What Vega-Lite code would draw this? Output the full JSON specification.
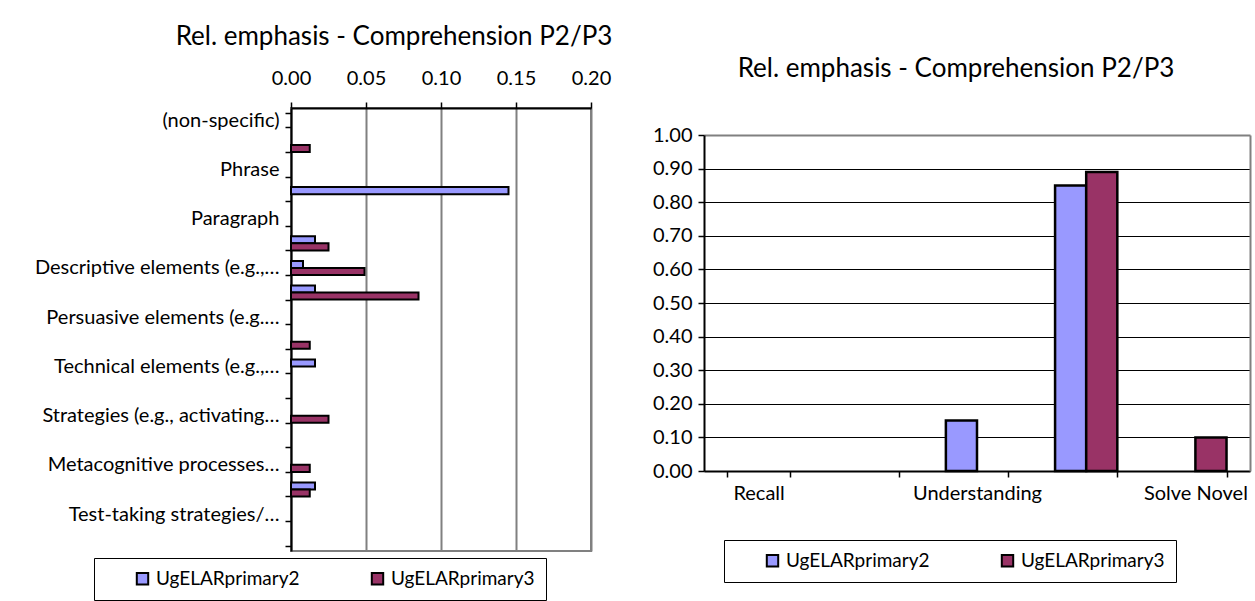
{
  "$schema": "https://vega.github.io/schema/vega-lite/v6.json",
  "background": "white",
  "padding": {"left": 33, "top": 23, "right": 5, "bottom": 0},
  "spacing": 38,
  "config": {
    "font": "Lato",
    "axis": {
      "labelFont": "Lato",
      "labelColor": "black",
      "domainColor": "black",
      "domainWidth": 2,
      "tickColor": "black",
      "tickWidth": 1.5,
      "tickSize": 6,
      "labelFlush": false,
      "title": null
    },
    "title": {"font": "Lato", "fontWeight": "normal", "fontSize": 26, "color": "black"},
    "legend": {
      "orient": "none",
      "direction": "horizontal",
      "title": null,
      "strokeColor": "black",
      "strokeWidth": 1,
      "fillColor": "white",
      "padding": 11,
      "symbolType": "square",
      "symbolSize": 130,
      "symbolStrokeColor": "black",
      "symbolStrokeWidth": 2,
      "symbolOpacity": 1,
      "labelFont": "Lato",
      "labelFontSize": 19,
      "labelColor": "black",
      "columnPadding": 40,
      "symbolOffset": 28
    }
  },
  "resolve": {"legend": {"color": "independent"}, "scale": {"color": "independent"}},
  "hconcat": [
    {
      "width": 300,
      "height": 443,
      "view": {"stroke": "#808080", "strokeWidth": 2},
      "title": {"text": "Rel. emphasis - Comprehension P2/P3", "anchor": "middle", "dx": -47, "offset": 18},
      "data": {
        "values": [
          {"topic": "Word", "series": "UgELARprimary3", "value": 0.0125},
          {"topic": "Sentence", "series": "UgELARprimary2", "value": 0.145},
          {"topic": "Multiple paragraphs", "series": "UgELARprimary2", "value": 0.016},
          {"topic": "Multiple paragraphs", "series": "UgELARprimary3", "value": 0.025},
          {"topic": "Descriptive elements (e.g.,…", "series": "UgELARprimary2", "value": 0.008},
          {"topic": "Descriptive elements (e.g.,…", "series": "UgELARprimary3", "value": 0.049},
          {"topic": "Narrative elements (e.g.,…", "series": "UgELARprimary2", "value": 0.016},
          {"topic": "Narrative elements (e.g.,…", "series": "UgELARprimary3", "value": 0.085},
          {"topic": "Expository elements (e.g.,…", "series": "UgELARprimary3", "value": 0.0125},
          {"topic": "Technical elements (e.g.,…", "series": "UgELARprimary2", "value": 0.016},
          {"topic": "Strategies (e.g., activating…", "series": "UgELARprimary3", "value": 0.025},
          {"topic": "Metacognitive processes…", "series": "UgELARprimary3", "value": 0.0125},
          {"topic": "Self-monitoring…", "series": "UgELARprimary2", "value": 0.016},
          {"topic": "Self-monitoring…", "series": "UgELARprimary3", "value": 0.0125}
        ]
      },
      "mark": {"type": "bar", "stroke": "black", "strokeWidth": 2},
      "encoding": {
        "y": {
          "field": "topic",
          "type": "nominal",
          "sort": null,
          "scale": {
            "domain": [
              "(non-specific)", "Word", "Phrase", "Sentence", "Paragraph", "Multiple paragraphs",
              "Descriptive elements (e.g.,…", "Narrative elements (e.g.,…", "Persuasive elements (e.g.…",
              "Expository elements (e.g.,…", "Technical elements (e.g.,…", "Literary elements (e.g.,…",
              "Strategies (e.g., activating…", "Strategies (e.g., summarizing…", "Metacognitive processes…",
              "Self-monitoring…", "Test-taking strategies/…", "Other"
            ],
            "paddingInner": 0.43,
            "paddingOuter": 0.215
          },
          "axis": {
            "tickBand": "extent",
            "labelExpr": "round(datum.index * 17) % 2 == 0 ? datum.label : ''",
            "labelFontSize": 20,
            "labelPadding": 6,
            "labelLimit": 320
          }
        },
        "yOffset": {"field": "series", "scale": {"domain": ["UgELARprimary2", "UgELARprimary3"], "paddingInner": 0}},
        "x": {
          "field": "value",
          "type": "quantitative",
          "scale": {"domain": [0, 0.2]},
          "axis": {
            "orient": "top",
            "values": [0, 0.05, 0.1, 0.15, 0.2],
            "format": ".2f",
            "labelFontSize": 20,
            "labelPadding": 14,
            "grid": true,
            "gridColor": "#808080",
            "gridWidth": 2
          }
        },
        "color": {
          "field": "series",
          "type": "nominal",
          "scale": {"domain": ["UgELARprimary2", "UgELARprimary3"], "range": ["#9999FF", "#993366"]},
          "legend": {"legendX": -197, "legendY": 450}
        }
      }
    },
    {
      "width": 546,
      "height": 363,
      "view": {"stroke": null},
      "title": {"text": "Rel. emphasis - Comprehension P2/P3", "anchor": "middle", "dx": -21, "offset": 26},
      "data": {
        "values": [
          {"demand": "Understanding", "series": "UgELARprimary2", "value": 0.15},
          {"demand": "Conjecture", "series": "UgELARprimary2", "value": 0.85},
          {"demand": "Conjecture", "series": "UgELARprimary3", "value": 0.89},
          {"demand": "Solve Novel", "series": "UgELARprimary3", "value": 0.1}
        ]
      },
      "encoding": {
        "x": {
          "field": "demand",
          "type": "nominal",
          "sort": null,
          "scale": {
            "domain": ["Recall", "Procedures", "Understanding", "Conjecture", "Solve Novel"],
            "paddingInner": 0.43,
            "paddingOuter": 0.215
          },
          "axis": {
            "tickBand": "extent",
            "labelAngle": 0,
            "labelExpr": "round(datum.index * 4) % 2 == 0 ? datum.label : ''",
            "labelFontSize": 20,
            "labelPadding": 6
          }
        },
        "xOffset": {"field": "series", "scale": {"domain": ["UgELARprimary2", "UgELARprimary3"], "paddingInner": 0}},
        "y": {
          "field": "value",
          "type": "quantitative",
          "scale": {"domain": [0, 1], "range": [363, 27]},
          "axis": {
            "values": [0, 0.1, 0.2, 0.3, 0.4, 0.5, 0.6, 0.7, 0.8, 0.9, 1],
            "format": ".2f",
            "labelFontSize": 20,
            "labelPadding": 6,
            "grid": true,
            "gridColor": {"condition": {"test": "datum.value >= 1", "value": "#808080"}, "value": "black"},
            "gridWidth": {"condition": {"test": "datum.value >= 1", "value": 2}, "value": 1}
          }
        },
        "color": {
          "field": "series",
          "type": "nominal",
          "scale": {"domain": ["UgELARprimary2", "UgELARprimary3"], "range": ["#9999FF", "#993366"]},
          "legend": {"legendX": 20, "legendY": 432}
        }
      },
      "layer": [
        {"mark": {"type": "bar", "stroke": "black", "strokeWidth": 2.5}},
        {
          "mark": {"type": "bar", "opacity": 0},
          "encoding": {
            "y": {
              "field": "value",
              "type": "quantitative",
              "axis": {"orient": "right", "labels": false, "ticks": false, "grid": false, "domainColor": "#808080", "domainWidth": 2}
            }
          }
        }
      ],
      "resolve": {"axis": {"y": "independent"}}
    }
  ]
}
